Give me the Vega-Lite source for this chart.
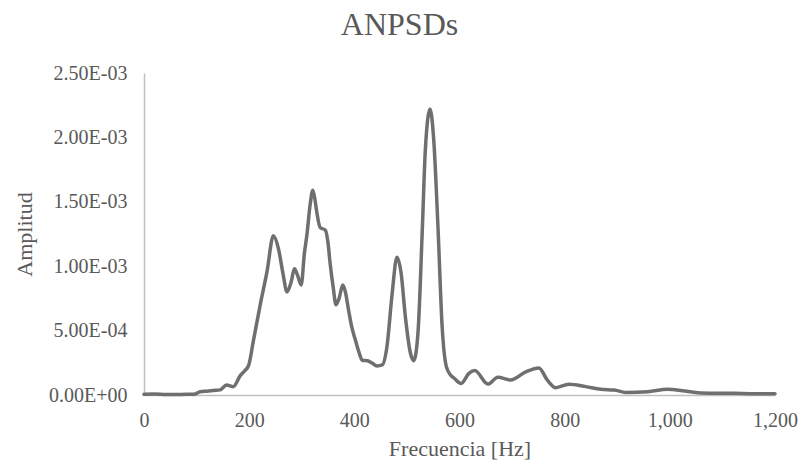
{
  "$schema": "https://vega.github.io/schema/vega-lite/v6.json",
  "autosize": {"type": "none"},
  "width": 631,
  "height": 322,
  "padding": {"left": 144, "top": 73, "right": 23, "bottom": 69},
  "background": "white",
  "title": {
    "text": "ANPSDs",
    "font": "Liberation Serif",
    "fontSize": 32,
    "fontWeight": "normal",
    "color": "#595959",
    "anchor": "middle",
    "frame": "bounds",
    "offset": 21,
    "dx": -6
  },
  "config": {
    "view": {"stroke": null},
    "axis": {
      "labelFont": "Liberation Serif",
      "titleFont": "Liberation Serif",
      "labelColor": "#595959",
      "titleColor": "#595959",
      "labelFontSize": 20,
      "titleFontSize": 22,
      "titleFontWeight": "normal",
      "grid": false,
      "ticks": false,
      "domainColor": "#BFBFBF",
      "domainWidth": 1.5
    }
  },
  "data": {
    "values": [
      {"f": 0, "a": 0.000005},
      {"f": 20, "a": 0.000008},
      {"f": 40, "a": 0.000004},
      {"f": 60, "a": 0.000003},
      {"f": 80, "a": 0.000006},
      {"f": 95, "a": 0.000005},
      {"f": 107, "a": 0.000026},
      {"f": 120, "a": 0.00003},
      {"f": 132, "a": 0.000035},
      {"f": 145, "a": 0.00004},
      {"f": 157, "a": 0.000078},
      {"f": 170, "a": 0.000065},
      {"f": 183, "a": 0.00015},
      {"f": 192, "a": 0.00019},
      {"f": 199, "a": 0.00023},
      {"f": 208, "a": 0.00042},
      {"f": 221, "a": 0.0007},
      {"f": 234, "a": 0.00096},
      {"f": 246, "a": 0.001237},
      {"f": 256, "a": 0.00113},
      {"f": 264, "a": 0.00095},
      {"f": 272, "a": 0.0008},
      {"f": 280, "a": 0.00088},
      {"f": 286, "a": 0.00098},
      {"f": 292, "a": 0.00093},
      {"f": 299, "a": 0.000855},
      {"f": 305, "a": 0.0011},
      {"f": 310, "a": 0.00125},
      {"f": 316, "a": 0.00148},
      {"f": 321, "a": 0.00159},
      {"f": 325, "a": 0.00152},
      {"f": 329, "a": 0.00141},
      {"f": 335, "a": 0.0013},
      {"f": 345, "a": 0.00128},
      {"f": 350, "a": 0.00118},
      {"f": 354, "a": 0.00102},
      {"f": 360, "a": 0.00083},
      {"f": 365, "a": 0.0007},
      {"f": 371, "a": 0.00075},
      {"f": 378, "a": 0.000854},
      {"f": 383, "a": 0.0008},
      {"f": 389, "a": 0.00066},
      {"f": 395, "a": 0.00053},
      {"f": 402, "a": 0.000427},
      {"f": 409, "a": 0.00033},
      {"f": 415, "a": 0.00027},
      {"f": 425, "a": 0.000266},
      {"f": 433, "a": 0.00025},
      {"f": 443, "a": 0.000225},
      {"f": 453, "a": 0.000233},
      {"f": 462, "a": 0.000375},
      {"f": 472, "a": 0.00079},
      {"f": 481, "a": 0.00107},
      {"f": 489, "a": 0.000945},
      {"f": 497, "a": 0.00061},
      {"f": 507, "a": 0.00032},
      {"f": 513, "a": 0.000266},
      {"f": 521, "a": 0.00048},
      {"f": 529, "a": 0.001255},
      {"f": 535, "a": 0.0019},
      {"f": 544, "a": 0.00222},
      {"f": 551, "a": 0.00198},
      {"f": 559, "a": 0.00131},
      {"f": 567, "a": 0.00053},
      {"f": 575, "a": 0.00022},
      {"f": 583, "a": 0.000155},
      {"f": 590, "a": 0.00013},
      {"f": 603, "a": 0.00009},
      {"f": 618, "a": 0.000168},
      {"f": 629, "a": 0.00019},
      {"f": 654, "a": 0.000085},
      {"f": 673, "a": 0.000137},
      {"f": 697, "a": 0.000116},
      {"f": 726, "a": 0.00018},
      {"f": 751, "a": 0.00021},
      {"f": 767, "a": 0.000116},
      {"f": 783, "a": 0.000057},
      {"f": 808, "a": 0.000083},
      {"f": 840, "a": 0.000065},
      {"f": 869, "a": 0.000044},
      {"f": 894, "a": 0.000039},
      {"f": 916, "a": 0.00002},
      {"f": 958, "a": 0.000026},
      {"f": 996, "a": 0.000044},
      {"f": 1024, "a": 0.000033},
      {"f": 1053, "a": 0.000018},
      {"f": 1090, "a": 0.000014},
      {"f": 1123, "a": 0.000013},
      {"f": 1161, "a": 0.00001},
      {"f": 1200, "a": 0.00001}
    ]
  },
  "mark": {
    "type": "line",
    "interpolate": "monotone",
    "color": "#6F6F6F",
    "strokeWidth": 3.5,
    "strokeCap": "round",
    "clip": false
  },
  "encoding": {
    "x": {
      "field": "f",
      "type": "quantitative",
      "scale": {"domain": [0, 1200], "nice": false},
      "axis": {
        "title": "Frecuencia [Hz]",
        "values": [0, 200, 400, 600, 800, 1000, 1200],
        "format": ",d",
        "labelPadding": 15,
        "titlePadding": 8,
        "labelFlush": false,
        "labelOverlap": false
      }
    },
    "y": {
      "field": "a",
      "type": "quantitative",
      "scale": {"domain": [0, 0.0025], "nice": false},
      "axis": {
        "title": "Amplitud",
        "values": [0, 0.0005, 0.001, 0.0015, 0.002, 0.0025],
        "labelExpr": "datum.value == 0 ? '0.00E+00' : replace(replace(format(datum.value, '.2e'), 'e-', 'E-0'), 'e+', 'E+0')",
        "labelPadding": 17,
        "titlePadding": 12,
        "labelFlush": false,
        "labelOverlap": false
      }
    }
  }
}
